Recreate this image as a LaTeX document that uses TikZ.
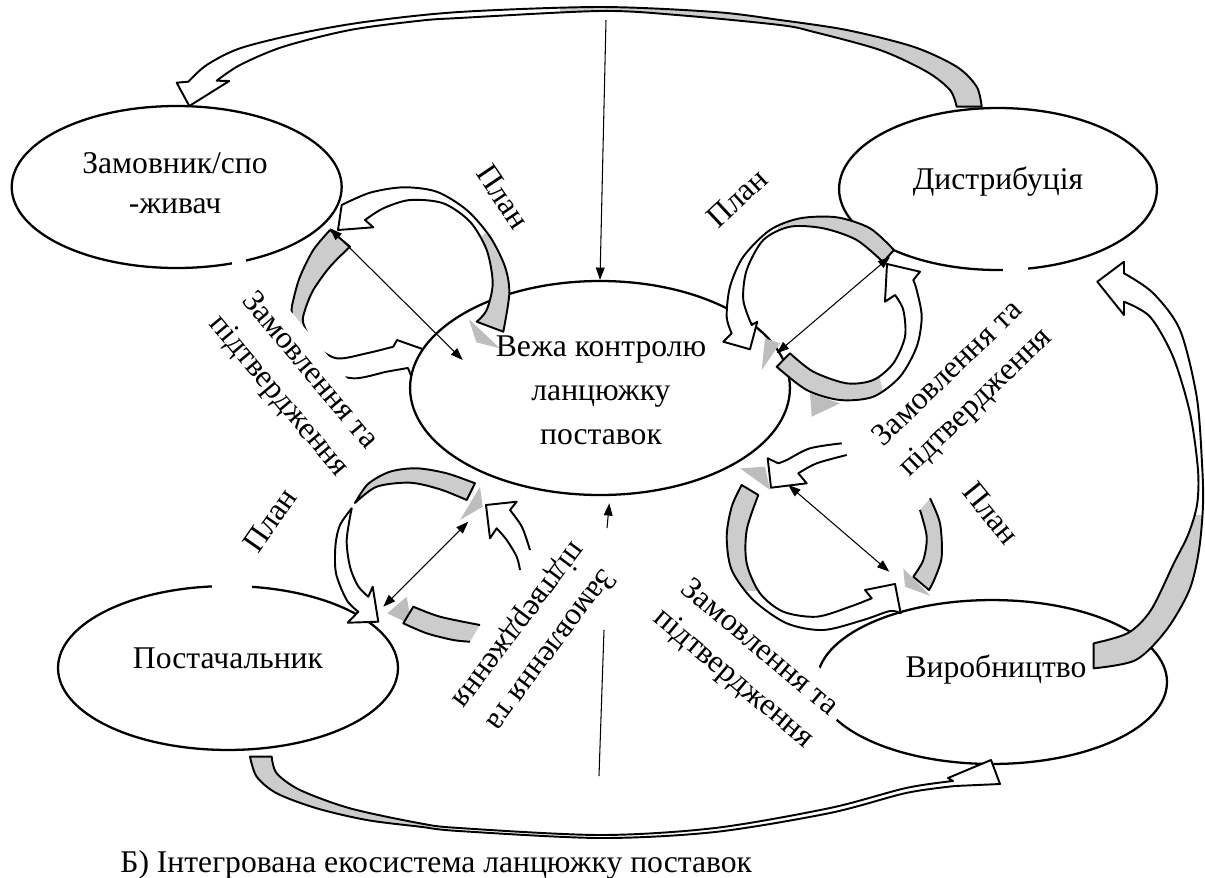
\documentclass[tikz,border=0pt]{standalone}
\usepackage{fontspec}
\setmainfont{Liberation Serif}
\usetikzlibrary{shapes.geometric,arrows.meta}
\definecolor{bandgray}{gray}{0.8}
\definecolor{palegray}{gray}{0.74}
\tikzset{unit/.style={ellipse,draw,line width=1.3pt,fill=white,inner sep=0pt},
  txt/.style={font=\fontsize{18}{22.8}\selectfont,align=center,inner sep=0pt},
  lbl/.style={txt,fill=white,inner xsep=3pt,inner ysep=6pt},
  band/.style={line width=1.1pt,line join=round},
  pale/.style={fill=palegray},
  link/.style={line width=0.6pt,{Triangle[length=7pt,width=5pt]}-{Triangle[length=7pt,width=5pt]}},
  feed/.style={line width=0.6pt,-{Triangle[length=7pt,width=5pt]}}}
\newcommand{\twotone}[2]{\fill[white] #1 -- cycle;
  \begin{scope}\clip #2; \fill[bandgray] #1 -- cycle; \end{scope}}

\begin{document}
\begin{tikzpicture}[x=0.02cm,y=-0.02cm]
\useasboundingbox (0,0) rectangle (1205,877);

\def\toparr{plot[smooth] coordinates {(981.7,106.7) (976.7,86.7) (956.7,66.7) (913.3,46.7) (846.7,30) (780,20) (715,12) (600,7) (459,12) (366.7,21.7) (300,33.3) (240,48.3) (206.7,65) (188.3,81.7)}
  -- (176.7,82.7) -- (189.3,106) -- (229.3,81)
  -- plot[smooth] coordinates {(216.7,80.7) (240,65) (283.3,46.7) (350,30) (420,20.7) (459,18) (600,11) (677,15) (780,25) (813,31.7) (880,50) (926.7,71.7) (950,90) (956.7,106.7)}}
\twotone{\toparr}{(560,0) rectangle (1000,120)}
\draw[band] \toparr -- cycle;

\node[unit,minimum width=187.8pt,minimum height=92.2pt] (cust) at (176.7,187) {};
\node[unit,minimum width=180.9pt,minimum height=92.2pt] (dist) at (998,189) {};
\node[unit,minimum width=193.5pt,minimum height=93.3pt] (supp) at (228,668) {};
\node[unit,minimum width=199.2pt,minimum height=93.3pt] (prod) at (992,682) {};

\def\rightarr{plot[smooth] coordinates {(1093.7,668.3) (1135.8,660) (1166.4,630) (1189.4,590) (1199,550) (1203,505) (1202,463) (1196.7,396.7) (1180,330) (1153,293) (1124,273.3)}
  -- (1124,261.7) -- (1097.3,281.7) -- (1124,315)
  -- plot[smooth] coordinates {(1124,301.7) (1150,316.7) (1173,356.7) (1190,413) (1198,470) (1197,505) (1188,535) (1174,563) (1151,610) (1128,633) (1093.7,643.3)}}
\twotone{\rightarr}{(1080,515) rectangle (1210,680)}
\draw[band] \rightarr -- cycle;

\def\bottomarr{plot[smooth] coordinates {(250,756.7) (256.7,776.7) (276.7,793.3) (316.7,808.3) (366.7,820) (420,826.7) (459,831) (600,838) (715,832) (830,813) (906,793) (955,786)}
  -- (1000,784) -- (991,760) -- (948,778)
  -- plot[smooth] coordinates {(953,781) (906,788) (830,808) (715,828) (600,835) (459,828) (420,823.3) (350,808.3) (300,790) (276.7,773.3) (271.7,756.7)}}
\twotone{\bottomarr}{(240,740) rectangle (430,845)}
\draw[band] \bottomarr -- cycle;

\def\custloopb{plot[smooth] coordinates {(330,230) (313.3,250) (300,276.7) (293.3,300) (291.7,313.3) (297,340) (320,368) (353.3,378.3) (386.7,371.7) (408,368)}
  -- (412,378) -- (445,357) -- (397,340)
  -- plot[smooth] coordinates {(393.3,346.7) (366.7,353.3) (336.7,358.3) (315,345) (303.3,323.3) (305,310) (313.3,290) (330,266.7) (350,246.7)}}
\twotone{\custloopb}{(250,200) -- (420,200) -- (320,340) -- (250,340) -- cycle}
\draw[band] \custloopb -- cycle;

\node[unit,minimum width=216.2pt,minimum height=121.8pt] (tower) at (600,388) {};

\fill[pale] (469,319.3) -- (500,348.3) -- (476.3,342.3) -- cycle;
\fill[pale] (765,338.3) -- (780,343.3) -- (761.7,370) -- cycle;
\fill[pale] (810,393.3) -- (840,403.3) -- (811.7,416.7) -- cycle;
\fill[pale] (480,486.7) -- (482.7,506.7) -- (460,520) -- cycle;
\fill[pale] (387.3,613.3) -- (406.7,596.7) -- (411.7,625) -- cycle;
\fill[pale] (740,468.3) -- (765,466.7) -- (770,490) -- cycle;
\fill[pale] (903.3,568.3) -- (930.7,596) -- (905,586.7) -- cycle;

\coordinate (p4a) at (788.3,485);
\coordinate (p4b) at (889.3,571.7);
\draw[link] (p4a) -- (p4b);

\def\custloopa{plot[smooth] coordinates {(341.7,205) (370,192.7) (403.3,187.3) (436.7,191.7) (466.7,210) (490,236.7) (505,266.7) (509.3,293.3) (503.3,331.7)}
  -- plot[smooth] coordinates {(476.7,321.7) (486.7,310) (492.7,283.3) (486.7,250) (470,221.7) (443.3,203.3) (410,200) (383.3,208.3) (365,220)}
  -- (373.3,227.3) -- (338,230)}
\twotone{\custloopa}{(455,262) -- (530,190) -- (600,350) -- (455,360) -- cycle}
\draw[band] \custloopa -- cycle;

\def\distloopa{plot[smooth] coordinates {(894,250) (870,228.3) (836.7,217.3) (800,218.3) (770,230) (743.3,256.7) (730,286.7) (726.7,316.7) (731.7,333.3)}
  -- (723.3,341.7) -- (750,349.3) -- (757.3,321.7)
  -- plot[smooth] coordinates {(751.7,325) (743.3,300) (746.7,270) (763.3,240) (790,226.7) (823.3,228.3) (856.7,240) (883,262)}}
\twotone{\distloopa}{(778,150) rectangle (960,290)}
\draw[band] \distloopa -- cycle;

\def\distloopb{plot[smooth] coordinates {(776.7,366.7) (806.7,390) (840,400) (873.3,396.7) (900,376.7) (916.7,346.7) (921.7,316.7) (916.7,290) (913.3,280)}
  -- (920,271.7) -- (887,264) -- (885,301.7)
  -- plot[smooth] coordinates {(895,295) (903.3,310) (905,336.7) (893.3,363.3) (873.3,380) (846.7,383.3) (813.3,371.7) (790,353.3)}}
\twotone{\distloopb}{(760,345) -- (872,345) -- (892,430) -- (760,430) -- cycle}
\draw[band] \distloopb -- cycle;

\def\supploopa{plot[smooth] coordinates {(351.7,508.3) (340,525) (335.5,545) (336,573.3) (346.7,600) (358.3,611.7)}
  -- (347.7,622.7) -- (378.3,621.7) -- (372.7,586.7)
  -- plot[smooth] coordinates {(368.3,596.7) (358,586) (350,566.7) (346.7,540) (351.7,508.3)}}
\filldraw[band,fill=white] \supploopa -- cycle;

\def\supploopb{plot[smooth] coordinates {(355,503) (368,484) (390,471.7) (416.7,468.3) (446.7,473.3) (475,483.3)}
  -- plot[smooth] coordinates {(466.7,500) (440,489.3) (410,482.7) (376.7,486.7) (355,503)}}
\filldraw[band,fill=bandgray] \supploopb -- cycle;

\def\supploopc{plot[smooth] coordinates {(530,550) (522,527) (510,510)}
  -- (516.7,501.7) -- (486,505) -- (490,538.3)
  -- plot[smooth] coordinates {(496.7,528.3) (506.7,540) (516.7,556.7) (520,570)}}
\fill[white] \supploopc -- cycle;
\draw[band] \supploopc;

\def\supploopd{plot[smooth] coordinates {(480,625) (440,616.7) (413.3,606.7)}
  -- plot[smooth] coordinates {(403.3,623.3) (426.7,633.3) (453.3,640) (470,641.7)}}
\fill[bandgray] \supploopd -- cycle;
\draw[band] \supploopd;

\def\prodloopa{plot[smooth] coordinates {(741.7,485) (731.7,506.7) (726.7,536.7) (731.7,570) (753.3,600) (786.7,623.3) (823.3,630) (863.3,620) (890,611) (900.7,613.3)}
  -- (895,584) -- (865,590)
  -- plot[smooth] coordinates {(871.7,598.3) (850,606.7) (816.7,616.7) (783.3,611.7) (760,593.3) (746.7,563.3) (746.7,530) (758.3,495)}}
\twotone{\prodloopa}{(700,470) rectangle (775,590)}
\draw[band] \prodloopa -- cycle;

\def\prodloopb{plot[smooth] coordinates {(841.7,443.3) (810,448.3) (786.7,460) (778.3,463.3)}
  -- (767.7,458.3) -- (771,487.7) -- (806.7,483.3)
  -- plot[smooth] coordinates {(798.3,473.3) (816.7,463.3) (846.7,455)}}
\fill[white] \prodloopb -- cycle;
\draw[band] \prodloopb;

\def\prodloopc{plot[smooth] coordinates {(920,510) (926.7,536.7) (923.3,560) (913.3,576.7)}
  -- plot[smooth] coordinates {(929,590) (935,578) (941.7,556.7) (940,523.3) (930,498.3)}}
\fill[bandgray] \prodloopc -- cycle;
\draw[band] \prodloopc;

\coordinate (p1a) at (330,228.3);
\coordinate (p1b) at (462.7,360);
\coordinate (p2a) at (890,256.7);
\coordinate (p2b) at (776.7,353.3);
\coordinate (p3a) at (468.3,521.7);
\coordinate (p3b) at (383.3,606.7);
\draw[link] (p1a) -- (p1b);
\draw[link] (p2a) -- (p2b);
\draw[link] (p3a) -- (p3b);

\coordinate (topin) at (606,20);
\coordinate (botin) at (599,776);
\coordinate (gaplo) at (604,630);
\coordinate (gaphi) at (607,528);
\coordinate (botup) at (609.3,503.3);
\draw[feed] (topin) -- (tower.north);
\draw[line width=0.6pt] (botin) -- (gaplo);
\draw[feed] (gaphi) -- (botup);

\node[lbl,rotate=-50] (ord1) at (293.7,384) {Замовлення та\\підтвердження};
\node[lbl,rotate=-56] (plan1) at (503,197) {План};
\node[lbl,rotate=43] (plan2) at (737,198) {План};
\node[lbl,rotate=44] (ord2) at (962.5,389) {Замовлення та\\підтвердження};
\node[lbl,rotate=55] (plan3) at (270,520) {План};
\node[lbl,rotate=233] (ord3) at (534,637) {Замовлення та\\підтвердження};
\node[lbl,rotate=-51] (plan4) at (991,513) {План};
\node[lbl,rotate=-40] (ord4) at (746,664) {Замовлення та\\підтвердження};

\fill[white] (232,258) rectangle (246,272);
\fill[white] (1003,264) rectangle (1028,276);
\fill[white] (212,580) rectangle (252,592);

\node[txt] (cust-t) at (175,183) {Замовник/спо\\-живач};
\node[txt] (dist-t) at (998,182) {Дистрибуція};
\node[txt,font=\fontsize{18}{25}\selectfont] (tower-t) at (601,390) {Вежа контролю\\ланцюжку\\поставок};
\node[txt] (supp-t) at (228,658) {Постачальник};
\node[txt] (prod-t) at (996,670) {Виробництво};
\node[txt,anchor=base west] (title) at (120,872) {Б) Інтегрована екосистема ланцюжку поставок};
\end{tikzpicture}
\end{document}
